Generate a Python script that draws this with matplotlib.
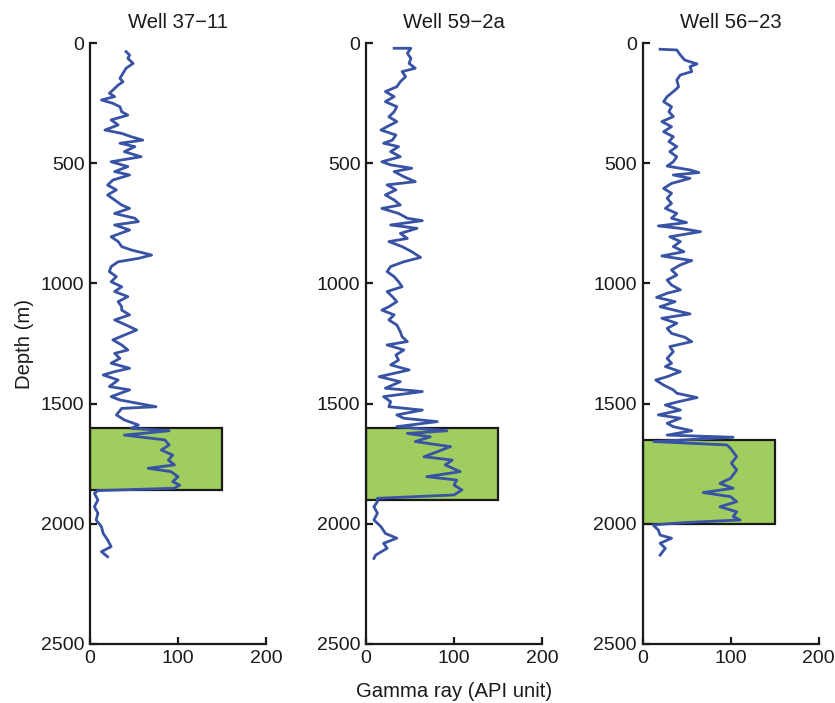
import matplotlib
matplotlib.use("Agg")
from matplotlib import pyplot as plt
from matplotlib.patches import Rectangle

plt.rcParams['font.family'] = ['Liberation Sans', 'DejaVu Sans']

wells = ["Well 37\u221211", "Well 59\u22122a", "Well 56\u221223"]

# depth (m) / gamma ray (API)
depth_37 = [36, 50, 64, 85, 105, 126, 147, 161, 175, 196, 209, 223, 237, 251, 265, 286,
            300, 320, 341, 362, 376, 390, 404, 417, 431, 452, 473, 494, 514, 535, 549, 570,
            591, 611, 632, 653, 674, 688, 709, 729, 743, 757, 778, 806, 826, 847, 861, 882,
            896, 910, 930, 951, 972, 993, 1014, 1034, 1055, 1076, 1097, 1111, 1131, 1152,
            1173, 1194, 1215, 1235, 1256, 1277, 1291, 1312, 1332, 1353, 1367, 1381, 1402,
            1429, 1443, 1471, 1485, 1513, 1520, 1547, 1568, 1589, 1603, 1613, 1631, 1651,
            1672, 1693, 1714, 1735, 1755, 1769, 1783, 1804, 1825, 1839, 1852, 1862, 1873,
            1901, 1929, 1956, 1984, 2012, 2040, 2067, 2095, 2116, 2137]
gr_37 = [41, 45, 43, 49, 41, 37.5, 34, 37.5, 32, 26, 22, 28, 13, 26, 34, 36,
         43, 24, 32, 17, 36, 47, 60, 34, 51, 39, 58, 24, 43, 28, 45, 26,
         20, 30, 20, 28, 36, 45, 28, 51, 55, 28, 45, 24, 32, 36, 47, 70,
         55, 32, 24, 22, 30, 24, 36, 28, 43, 32, 36, 36, 45, 28,
         41, 53, 39, 26, 36, 43, 28, 34, 24, 45, 28, 15, 32,
         22, 45, 24, 34, 75, 36, 30, 39, 55, 47, 90, 39, 85,
         90, 81, 94, 89, 96, 66, 92, 100, 94, 102, 96, 9, 5,
         9, 5, 9, 7, 13, 15, 20, 24, 13, 20]

depth_59 = [22, 22, 43, 64, 85, 105, 119, 140, 161, 182, 202, 223, 244, 265, 286, 307,
            327, 348, 362, 383, 404, 417, 431, 452, 473, 494, 507, 521, 535, 556, 577, 590,
            611, 632, 653, 674, 688, 709, 729, 739, 757, 771, 792, 813, 826, 847, 868, 892,
            910, 930, 951, 972, 993, 1014, 1034, 1055, 1076, 1097, 1111, 1131, 1152, 1173,
            1201, 1222, 1242, 1256, 1277, 1298, 1319, 1339, 1360, 1388, 1409, 1436, 1450,
            1471, 1492, 1513, 1527, 1547, 1561, 1575, 1589, 1596, 1613, 1624, 1638, 1658,
            1679, 1700, 1721, 1735, 1755, 1783, 1804, 1818, 1839, 1859, 1880, 1894, 1908,
            1929, 1956, 1984, 2012, 2040, 2060, 2081, 2102, 2130, 2144]
gr_59 = [32, 51, 47, 51, 49, 56, 41, 45, 39, 35, 22, 32, 22, 35, 32, 26,
         35, 24, 17, 34, 30, 20, 37, 28, 39, 18, 28, 52, 32, 43, 56, 24,
         34, 22, 32, 39, 18, 37, 47, 64, 28, 58, 39, 47, 26, 41, 52, 62,
         43, 28, 24, 32, 37, 41, 24, 30, 35, 26, 18, 32, 26, 35,
         39, 41, 47, 24, 43, 34, 37, 28, 49, 15, 39, 22, 64,
         20, 28, 26, 64, 35, 43, 81, 50, 35, 92, 47, 73, 56,
         96, 81, 66, 98, 90, 107, 69, 103, 100, 109, 100, 13, 13,
         9, 13, 9, 17, 22, 35, 20, 24, 11, 9]

depth_56 = [26, 29, 50, 71, 87, 98, 119, 133, 154, 182, 196, 223, 244, 265, 286, 306,
            327, 348, 369, 390, 410, 431, 452, 473, 494, 512, 528, 539, 549, 563, 584, 605,
            625, 646, 667, 688, 709, 729, 747, 761, 771, 785, 806, 826, 847, 868, 886, 905,
            923, 944, 965, 986, 1007, 1027, 1041, 1058, 1076, 1097, 1127, 1145, 1166, 1187,
            1208, 1224, 1242, 1263, 1284, 1312, 1332, 1346, 1367, 1388, 1402, 1423, 1443,
            1457, 1475, 1492, 1506, 1527, 1547, 1561, 1582, 1596, 1613, 1631, 1640, 1658,
            1672, 1686, 1721, 1748, 1776, 1811, 1832, 1852, 1870, 1887, 1908, 1929, 1950,
            1970, 1984, 1995, 2005, 2026, 2047, 2060, 2081, 2102, 2130]
gr_56 = [20, 39, 43, 48, 62, 54, 56, 43, 39, 41, 37, 28, 24, 33, 30, 35,
         22, 33, 24, 35, 30, 39, 31, 39, 35, 28, 54, 64, 35, 54, 33, 24,
         33, 28, 33, 26, 39, 33, 50, 18, 43, 66, 31, 43, 35, 47, 22, 56,
         43, 33, 39, 28, 33, 43, 28, 16, 37, 20, 54, 22, 39, 28,
         33, 48, 56, 31, 35, 28, 33, 26, 43, 28, 15, 24, 35,
         39, 62, 41, 26, 43, 18, 43, 28, 35, 56, 28, 103, 13,
         96, 100, 107, 101, 107, 100, 88, 103, 69, 100, 107, 88, 107,
         103, 111, 47, 12, 18, 20, 33, 20, 26, 20]

depths = [depth_37, depth_59, depth_56]
grs = [gr_37, gr_59, gr_56]

# green reservoir intervals
zone_top = [1600, 1600, 1650]
zone_base = [1860, 1900, 2000]
zone_gr_max = 150

fig = plt.figure(figsize=(8.35, 7.03), dpi=100)
lefts = [90 / 835, 366 / 835, 642.5 / 835]

for i in range(3):
    ax = fig.add_axes([lefts[i], 59 / 703, 176 / 835, 601 / 703])
    ax.add_patch(Rectangle((0, zone_top[i]), zone_gr_max, zone_base[i] - zone_top[i],
                           facecolor='#a0cd5f', edgecolor='#1a1a1a', linewidth=1.6, zorder=1))
    ax.plot(grs[i], depths[i], color='#3953a4', linewidth=2.0, zorder=2)
    ax.set_xlim(0, 200)
    ax.set_ylim(2500, 0)
    ax.set_xticks([0, 100, 200])
    ax.set_yticks([0, 500, 1000, 1500, 2000, 2500])
    ax.spines['top'].set_visible(False)
    ax.spines['right'].set_visible(False)
    ax.spines['left'].set_linewidth(1.6)
    ax.spines['bottom'].set_linewidth(1.6)
    ax.spines['left'].set_color('#1a1a1a')
    ax.spines['bottom'].set_color('#1a1a1a')
    ax.tick_params(direction='in', length=5, width=1.6, labelsize=14, pad=4,
                   colors='#1a1a1a')
    ax.set_title(wells[i], fontsize=14.6, pad=11, color='#1a1a1a')
    if i == 0:
        ax.set_ylabel("Depth (m)", fontsize=14.6, color='#1a1a1a', labelpad=5)
    if i == 1:
        ax.set_xlabel("Gamma ray (API unit)", fontsize=14.6, color='#1a1a1a', labelpad=11)

plt.savefig("out.png", dpi=100)
